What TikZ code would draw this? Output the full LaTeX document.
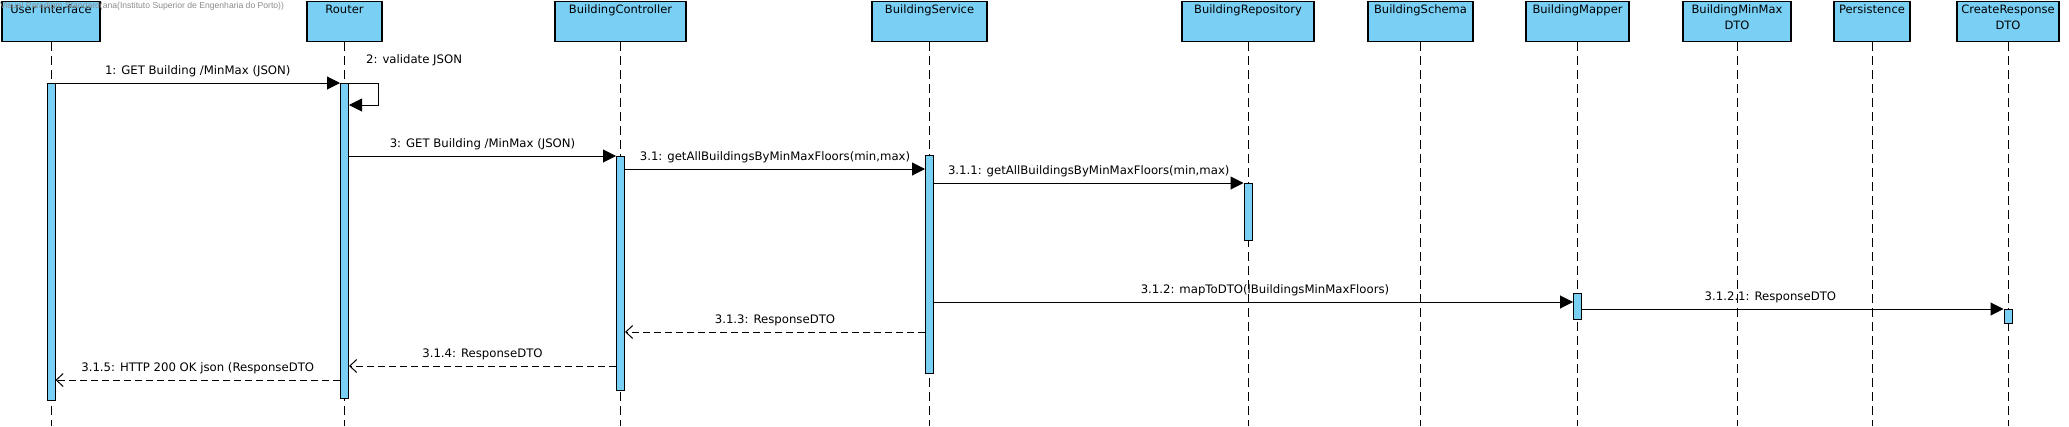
\documentclass[tikz,border=0pt]{standalone}
\usepackage{fontspec}
\setmainfont{DejaVu Sans}
\newfontfamily\wmfont{Liberation Sans}
\usetikzlibrary{arrows.meta}
\definecolor{vpblue}{RGB}{122,207,245}
\definecolor{wmgray}{RGB}{140,140,140}
\begin{document}
\begin{tikzpicture}[x=1pt,y=-1pt,
  obj/.style={draw=black, line width=1.1pt, fill=vpblue, rectangle, inner sep=0pt, minimum height=40pt, anchor=north},
  title/.style={font=\fontsize{11.5}{16}\selectfont, align=center, anchor=north, inner sep=0pt},
  life/.style={draw=black, line width=0.9pt, dash pattern=on 9pt off 5pt},
  act/.style={draw=black, line width=1pt, fill=vpblue, rectangle, inner sep=0pt, minimum width=8pt, anchor=north},
  sync/.style={draw=black, line width=1pt, -{Triangle[length=13pt,width=13pt]}},
  ret/.style={draw=black, line width=1pt, dash pattern=on 7pt off 4pt, -{Straight Barb[length=7pt,width=13pt]}},
  msg/.style={font=\fontsize{11.7}{14}\selectfont, inner sep=0pt, anchor=base, yshift=9pt},
  wm/.style={font=\wmfont\fontsize{8.6}{10}\selectfont, text=wmgray, inner sep=0pt, anchor=north west}]
\useasboundingbox (0,0) rectangle (2069,426);
\fill[white] (0,0) rectangle (2069,426);
\coordinate (bot) at (0,426);
% level coordinates
\coordinate (t1) at (0,83);
\coordinate (t2) at (0,105);
\coordinate (t3) at (0,156);
\coordinate (t31) at (0,169);
\coordinate (t311) at (0,183);
\coordinate (t312) at (0,302);
\coordinate (t3121) at (0,309);
\coordinate (t313) at (0,332);
\coordinate (t314) at (0,366);
\coordinate (t315) at (0,380);
% objects
\node[obj, minimum width=98pt] (UI) at (51,1) {};
\node[obj, minimum width=75pt] (R) at (344.5,1) {};
\node[obj, minimum width=131pt] (BC) at (620.5,1) {};
\node[obj, minimum width=115pt] (BS) at (929.5,1) {};
\node[obj, minimum width=132pt] (BR) at (1248,1) {};
\node[obj, minimum width=105pt] (BSc) at (1420.5,1) {};
\node[obj, minimum width=103pt] (BM) at (1577.5,1) {};
\node[obj, minimum width=108pt] (BMM) at (1737,1) {};
\node[obj, minimum width=76pt] (P) at (1872,1) {};
\node[obj, minimum width=102pt] (CR) at (2008,1) {};
% titles
\node[title] (tUI) at ([yshift=-4pt]UI.north) {User Interface};
\node[title] (tR) at ([yshift=-4pt]R.north) {Router};
\node[title] (tBC) at ([yshift=-4pt]BC.north) {BuildingController};
\node[title] (tBS) at ([yshift=-4pt]BS.north) {BuildingService};
\node[title] (tBR) at ([yshift=-4pt]BR.north) {BuildingRepository};
\node[title] (tBSc) at ([yshift=-4pt]BSc.north) {BuildingSchema};
\node[title] (tBM) at ([yshift=-4pt]BM.north) {BuildingMapper};
\node[title] (tBMM) at ([yshift=-4pt]BMM.north) {BuildingMinMax\\DTO};
\node[title] (tP) at ([yshift=-4pt]P.north) {Persistence};
\node[title] (tCR) at ([yshift=-4pt]CR.north) {CreateResponse\\DTO};
% lifelines
\foreach \o in {UI,R,BC,BS,BR,BSc,BM,BMM,P,CR}{
  \draw[life] (\o.south) -- (\o.south |- bot);
}
% activations
\node[act, minimum height=317pt] (aUI) at (UI.south |- t1) {};
\node[act, minimum height=315pt] (aR) at (R.south |- t1) {};
\node[act, minimum height=234pt] (aBC) at (BC.south |- t3) {};
\node[act, minimum height=218pt] (aBS) at ([yshift=1pt]BS.south |- 0,156) {};
\node[act, minimum height=57pt] (aBR) at (BR.south |- t311) {};
\node[act, minimum height=26pt] (aBM) at (BM.south |- 0,293) {};
\node[act, minimum height=14pt] (aCR) at (CR.south |- t3121) {};
% messages
\draw[sync] (aUI.east |- t1) -- (aR.west |- t1)
  node[msg, midway] (l1) {1: GET Building /MinMax (JSON)};
\draw[sync] (aR.east |- t1) -- ++(29,0) -- ++(0,22) -- (aR.east |- t2);
\node[msg, anchor=base west, yshift=0pt] (l2) at (366,72) {2: validate JSON};
\draw[sync] (aR.east |- t3) -- (aBC.west |- t3)
  node[msg, midway] (l3) {3: GET Building /MinMax (JSON)};
\draw[sync] (aBC.east |- t31) -- (aBS.west |- t31)
  node[msg, midway] (l31) {3.1: getAllBuildingsByMinMaxFloors(min,max)};
\draw[sync] (aBS.east |- t311) -- (aBR.west |- t311)
  node[msg, midway] (l311) {3.1.1: getAllBuildingsByMinMaxFloors(min,max)};
\draw[sync] (aBS.east |- t312) -- (aBM.west |- t312)
  node[msg, pos=0.518] (l312) {3.1.2: mapToDTO(lBuildingsMinMaxFloors)};
\draw[sync] (aBM.east |- t3121) -- (aCR.west |- t3121)
  node[msg, pos=0.447] (l3121) {3.1.2.1: ResponseDTO};
\draw[ret] (aBS.west |- t313) -- (aBC.east |- t313)
  node[msg, midway] (l313) {3.1.3: ResponseDTO};
\draw[ret] (aBC.west |- t314) -- (aR.east |- t314)
  node[msg, midway] (l314) {3.1.4: ResponseDTO};
\draw[ret] (aR.west |- t315) -- (aUI.east |- t315)
  node[msg, midway] (l315) {3.1.5: HTTP 200 OK json (ResponseDTO};
% watermark
\node[wm] (wmk) at (0,2) {Visual Paradigm Standard(ana(Instituto Superior de Engenharia do Porto))};
\end{tikzpicture}
\end{document}
